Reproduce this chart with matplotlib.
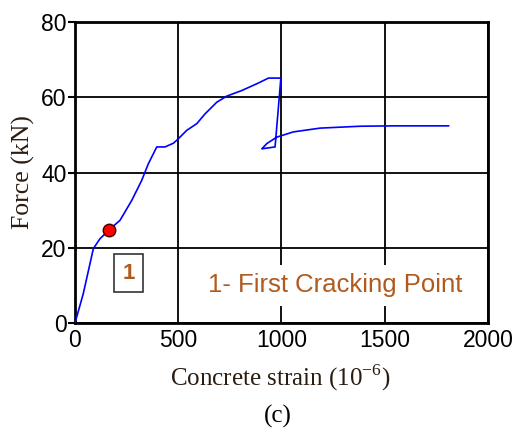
import matplotlib
matplotlib.use('Agg')
import matplotlib.pyplot as plt
from matplotlib.patches import Rectangle

plt.rcParams['mathtext.fontset'] = 'custom'
plt.rcParams['mathtext.rm'] = 'Liberation Serif'

# strain (10^-6) and force (kN)
strain = [0, 40, 89, 121, 166, 218, 275, 323, 355, 396, 436, 477, 501, 541, 590,
          630, 687, 735, 808, 881, 937, 997, 969, 905, 929, 977, 1058, 1187,
          1381, 1543, 1809]
force = [0, 7.8, 19.8, 22.4, 24.8, 27.3, 32.6, 37.9, 42.3, 46.8, 46.8, 47.8, 49.0,
         51.2, 53.0, 55.6, 58.7, 60.3, 61.8, 63.6, 65.1, 65.1, 46.8, 46.3, 47.7,
         49.4, 50.8, 51.8, 52.3, 52.4, 52.4]

crack_strain = [166]
crack_force = [24.8]

xticks = [0, 500, 1000, 1500, 2000]
yticks = [0, 20, 40, 60, 80]

brown = '#b05a1e'
label_col = '#2a1c10'

fig = plt.figure(figsize=(5.23, 4.29), dpi=100)
ax = fig.add_axes([0.1434, 0.247, 0.7896, 0.7017])

ax.plot(strain, force, color='#0000ff', lw=1.2, zorder=3)
ax.plot(crack_strain, crack_force, 'o', color='red', mec='#400000', mew=1,
        ms=9, zorder=5)

ax.set_xlim(0, 2000)
ax.set_ylim(0, 80)
ax.set_xticks(xticks)
ax.set_yticks(yticks)
ax.grid(True, color='black', lw=1.3)
ax.set_axisbelow(True)
for s in ax.spines.values():
    s.set_linewidth(2)
ax.tick_params(axis='y', direction='out', length=5, width=1.5, pad=1, labelsize=16.5)
ax.tick_params(axis='x', length=0, pad=4, labelsize=16.5)
for lab in ax.get_xticklabels() + ax.get_yticklabels():
    lab.set_fontfamily('Liberation Sans')

ax.text(1262, 10, '1- First Cracking Point', color=brown, fontsize=18.5,
        family='Liberation Sans', ha='center', va='center', zorder=4,
        bbox=dict(facecolor='white', edgecolor='none', pad=6))

ax.add_patch(Rectangle((191, 8.2), 137, 10.2, fill=True, facecolor='white',
                       edgecolor='#333333', lw=1.2, zorder=4))
ax.text(259.5, 13.1, '1', color=brown, fontsize=16, fontweight='bold',
        family='Liberation Sans', ha='center', va='center', zorder=5)

fig.text(0.535, 0.119, 'Concrete strain (10$^{\\mathrm{-6}}$)', family='Liberation Serif',
         fontsize=18, color=label_col, ha='center', va='center')
fig.text(0.044, 0.599, 'Force (kN)', family='Liberation Serif', fontsize=18.5,
         color=label_col, ha='center', va='center', rotation=90)
fig.text(0.532, 0.03, '(c)', family='Liberation Serif', fontsize=18,
         color='black', ha='center', va='center')

fig.savefig('out.png', dpi=100, facecolor='white')
